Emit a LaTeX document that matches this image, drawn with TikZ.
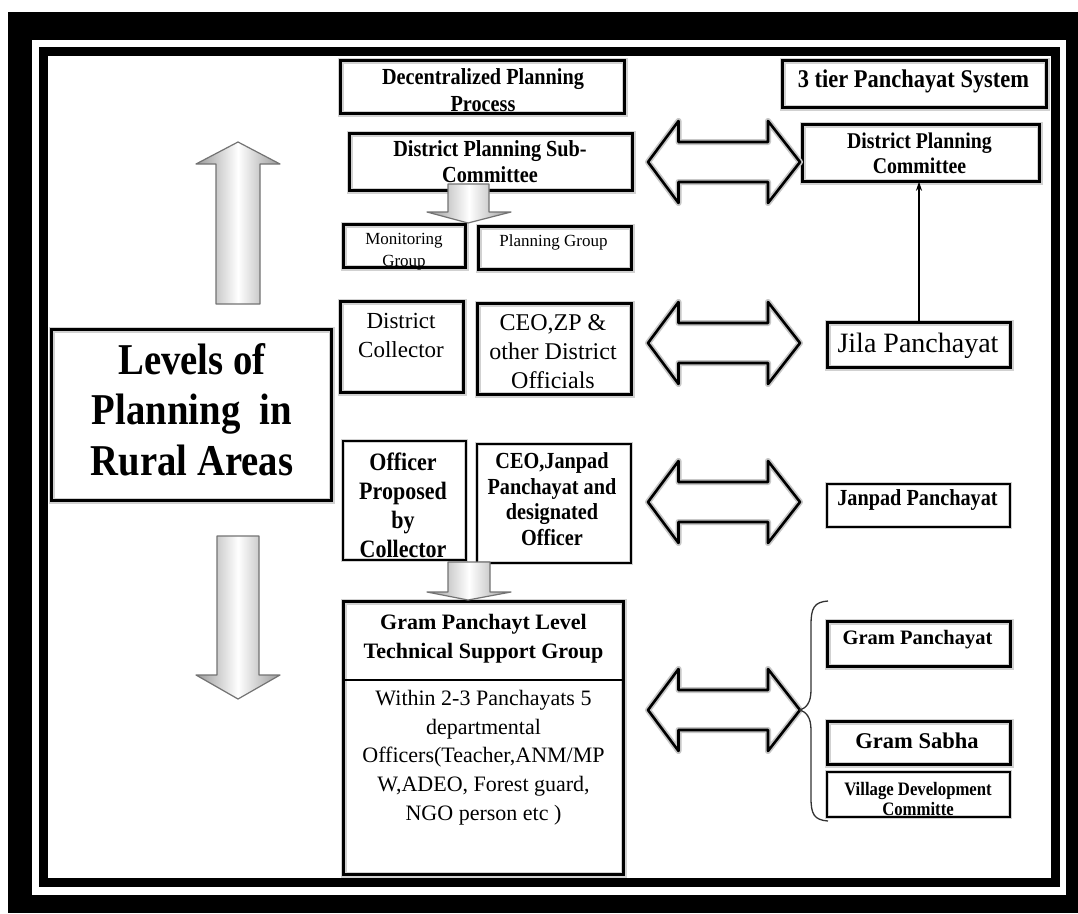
\documentclass[tikz,border=0pt]{standalone}
\usepackage{fontspec}
\setmainfont{Liberation Serif}
\newfontfamily\cnd{Liberation Serif}[FakeStretch=0.88]
\usetikzlibrary{fit,arrows.meta,calc}
\newcommand\fsz[2]{\fontsize{#1}{#2}\selectfont}
\begin{document}
\begin{tikzpicture}[x=1pt,y=-1pt,
  box/.style={fill=white, inner sep=-1.5pt, postaction={draw=black!18, line width=6pt}, postaction={draw=black, line width=3pt}},
  thinbox/.style={fill=white, inner sep=-0.8pt, postaction={draw=black!18, line width=3.6pt}, postaction={draw=black, line width=1.6pt}},
  txt/.style={align=center, inner sep=0pt, text=black},
  grayarrow/.style={draw=black!55, line width=1.2pt, line join=round, left color=black!40, right color=black!40, middle color=white},
  dblarrow/.style={fill=white, line join=round, postaction={draw=black!22, line width=6pt}, postaction={draw=black, line width=2.6pt}},
  link/.style={draw=black, line width=1.5pt, -{Stealth[length=9pt,width=6pt]}},
  bracestyle/.style={draw=black!80, line width=1.3pt}
]
\useasboundingbox (0,0) rectangle (1078,913);
% frame
\fill[black] (8,12) rectangle (1078,913);
\fill[white] (32,40) rectangle (1066,895);
\fill[black] (39,47) rectangle (1060,887);
\fill[white] (48,56) rectangle (1051,878);

% boxes
\node[box, fit={(339,59) (626,115)}] (dpp) {};
\node[box, fit={(781,59) (1048,109)}] (tier) {};
\node[box, fit={(348,132) (634,192)}] (dpsc) {};
\node[box, fit={(801,123) (1041,183)}] (dpc) {};
\node[box, fit={(342,223) (467,269)}] (mon) {};
\node[box, fit={(477,225) (633,271)}] (plg) {};
\node[box, fit={(339,300) (465,394)}] (dcol) {};
\node[box, fit={(476,302) (633,396)}] (ceozp) {};
\node[box, fit={(50,328) (333,502)}] (levels) {};
\node[box, fit={(826,321) (1012,369)}] (jila) {};
\node[thinbox, fit={(342,440) (467,561)}] (opc) {};
\node[thinbox, fit={(476,443) (632,564)}] (ceoj) {};
\node[thinbox, fit={(826,483) (1011,528)}] (janpad) {};
\node[box, fit={(342,600) (625,876)}] (gptsg) {};
\node[box, fit={(826,620) (1012,668)}] (gp) {};
\node[box, fit={(826,720) (1012,766)}] (gs) {};
\node[thinbox, fit={(826,771) (1011,818)}] (vdc) {};
\coordinate (divy) at (0,680);
\draw[line width=2.5pt] (gptsg.west |- divy) -- (gptsg.east |- divy);

% texts
\node[txt, font={\cnd\bfseries\fsz{23}{27}}] (dpp-t) at (483,90) {Decentralized Planning\\Process};
\node[txt, font={\cnd\bfseries\fsz{25.5}{30}}] (tier-t) at (913.5,81) {3 tier Panchayat System};
\node[txt, font={\cnd\bfseries\fsz{23}{26}}] (dpsc-t) at (490,162) {District Planning Sub-\\Committee};
\node[txt, font={\cnd\bfseries\fsz{22.5}{25}}] (dpc-t) at (919.5,153) {District Planning\\Committee};
\node[txt, font={\fsz{17}{22}}] (mon-t) at (404,252) {Monitoring\\Group};
\node[txt, font={\fsz{17}{20}}] (plg-t) at (553.5,242) {Planning Group};
\node[txt, font={\fsz{23}{29}}] (dcol-t) at (401,335) {District\\Collector};
\node[txt, font={\fsz{24}{29}}] (ceozp-t) at (553,352) {CEO,ZP \&\\other District\\Officials};
\node[txt, font={\cnd\bfseries\fsz{44}{50.5}}] (levels-t) at (192,409.5) {Levels of\\Planning\ \ in\\Rural Areas};
\node[txt, font={\fsz{28}{30}}] (jila-t) at (918,345.5) {Jila Panchayat};
\node[txt, font={\cnd\bfseries\fsz{25}{29}}] (opc-t) at (403,505) {Officer\\Proposed\\by\\Collector};
\node[txt, font={\cnd\bfseries\fsz{23}{25.5}}] (ceoj-t) at (552,499) {CEO,Janpad\\Panchayat and\\designated\\Officer};
\node[txt, font={\cnd\bfseries\fsz{23}{26}}] (janpad-t) at (917.5,500) {Janpad Panchayat};
\node[txt, font={\bfseries\fsz{22}{28.4}}] (gptsg-t) at (483.5,638.5) {Gram Panchayt Level\\Technical Support Group};
\node[txt, font={\fsz{22}{28.75}}] (gptsg-b) at (483.5,757.5) {Within 2-3 Panchayats 5\\departmental\\Officers(Teacher,ANM/MP\\W,ADEO, Forest guard,\\NGO person etc )};
\node[txt, font={\bfseries\fsz{20.5}{24}}] (gp-t) at (917.5,640) {Gram Panchayat};
\node[txt, font={\bfseries\fsz{22.5}{26}}] (gs-t) at (917,741) {Gram Sabha};
\node[txt, font={\cnd\bfseries\fsz{19}{20}}] (vdc-t) at (918,798.5) {Village Development\\Committe};

% gray block arrows
\path[grayarrow] (216,304) -- (216,164) -- (196,164) -- (238,142) -- (280,164) -- (260,164) -- (260,304) -- cycle;
\path[grayarrow] (217,536) -- (217,675) -- (196,675) -- (238,699) -- (280,675) -- (259,675) -- (259,536) -- cycle;
\path[grayarrow] (448,184) -- (448,212) -- (427,212) -- (468,223) -- (511,212) -- (489,212) -- (489,184) -- cycle;
\path[grayarrow] (448,562) -- (448,592) -- (427,592) -- (468,600) -- (511,592) -- (490,592) -- (490,562) -- cycle;

% double block arrows
\foreach \c in {162,343,502,710}{
  \path[dblarrow] (648,\c) -- (678.5,\c-41) -- (678.5,\c-20) -- (768,\c-20) -- (768,\c-41) -- (800,\c)
     -- (768,\c+41) -- (768,\c+20) -- (678.5,\c+20) -- (678.5,\c+41) -- cycle;
}

% connector
\draw[link] (jila.north) -- (jila.north |- dpc.south);

% brace
\coordinate (brtop) at (828,601);
\coordinate (brtip) at (800,710);
\coordinate (brbot) at (828,821);
\draw[bracestyle] (brtop) .. controls (814,602) and (811,608) .. (811,625) -- (811,690)
  .. controls (811,703) and (806,708) .. (brtip)
  .. controls (806,712) and (811,717) .. (811,730) -- (811,798)
  .. controls (811,814) and (814,820) .. (brbot);
\end{tikzpicture}
\end{document}
